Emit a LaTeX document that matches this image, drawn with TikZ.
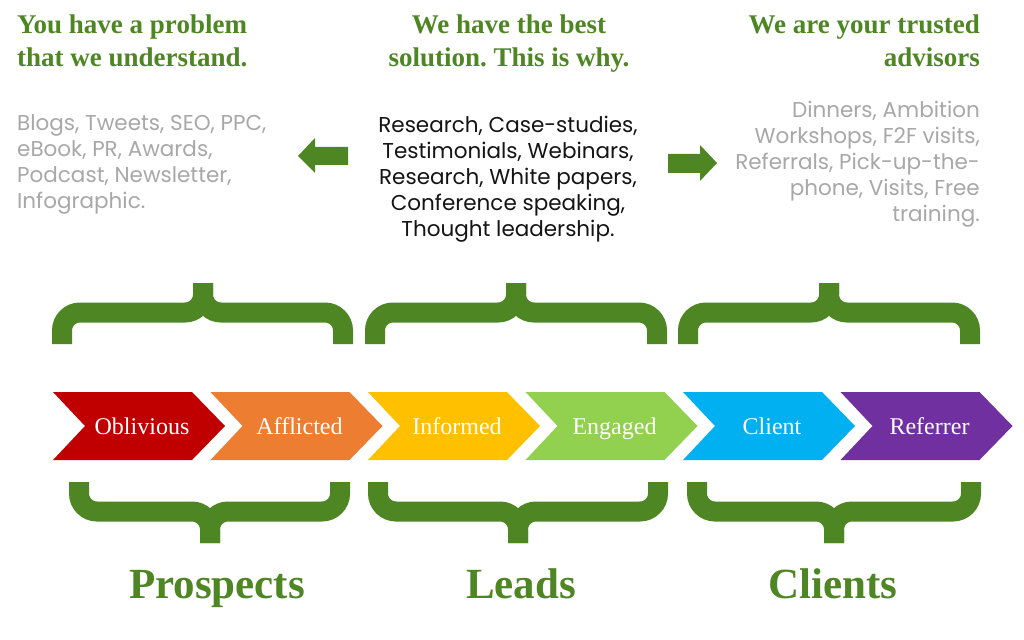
\documentclass[tikz,border=0pt]{standalone}
\usepackage{fontspec}
\setmainfont{Liberation Serif}
\newfontfamily\popfont{Poppins}
\definecolor{brgreen}{RGB}{79,134,36}
\definecolor{txgray}{RGB}{168,168,168}
\definecolor{cRed}{RGB}{192,0,0}
\definecolor{cOrange}{RGB}{237,125,49}
\definecolor{cYellow}{RGB}{255,192,0}
\definecolor{cLime}{RGB}{146,208,80}
\definecolor{cBlue}{RGB}{0,176,240}
\definecolor{cPurple}{RGB}{112,48,160}
\frenchspacing
\begin{document}
\begin{tikzpicture}[x=1pt,y=-1pt,
  heading/.style={inner sep=0pt,text=brgreen,font=\fontsize{27}{33}\selectfont\bfseries},
  body/.style={inner sep=0pt,font=\popfont\fontsize{21.5}{26}\selectfont},
  chevlabel/.style={inner sep=0pt,anchor=base,text=white,font=\fontsize{24}{28}\selectfont},
  bracestroke/.style={draw=brgreen,line width=20pt,line cap=butt,rounded corners=18pt},
  bigword/.style={inner sep=0pt,anchor=base,text=brgreen,font=\fontsize{43}{50}\selectfont\bfseries},
  greenarrow/.style={fill=brgreen,draw=none}]
\useasboundingbox (0,0) rectangle (1024,639);
\fill[white] (0,0) rectangle (1024,639);

% headings
\node[heading,anchor=north west,align=left] (h1) at (17,15) {You have a problem\\that we understand.};
\node[heading,anchor=north,align=center] (h2) at (509,15) {We have the best\\solution. This is why.};
\node[heading,anchor=north east,align=right] (h3) at (980,15) {We are your trusted\\advisors};

% body texts
\node[body,text=txgray,anchor=north west,align=left] (t1) at (17,114)
  {Blogs, Tweets, SEO, PPC,\\eBook, PR, Awards,\\Podcast, Newsletter,\\Infographic.};
\node[body,text=black!92,anchor=north,align=center] (t2) at (508,116)
  {Research, Case-studies,\\Testimonials, Webinars,\\Research, White papers,\\Conference speaking,\\Thought leadership.};
\node[body,text=txgray,anchor=north east,align=right] (t3) at (980,101)
  {Dinners, Ambition\\Workshops, F2F visits,\\Referrals, Pick-up-the-\\phone, Visits, Free\\training.};

% arrows
\fill[greenarrow] (298,156) -- (315,138) -- (315,147) -- (348,147) -- (348,165) -- (315,165) -- (315,173) -- cycle;
\fill[greenarrow] (668,154) -- (700,154) -- (700,145) -- (717,163) -- (700,181) -- (700,173) -- (668,173) -- cycle;

% top braces
\foreach \xa/\xb/\cx in {52/353/203, 365/667/516, 678/980/829}{
  \draw[bracestroke] (\xa+10,344) |- (\cx,312.5) -- (\cx,283);
  \draw[bracestroke] (\xb-10,344) |- (\cx,312.5) -- (\cx,283);
}
% bottom braces
\foreach \xa/\xb/\cx in {69/350/210, 368/668/518, 687/981/834}{
  \draw[bracestroke] (\xa+10,482) |- (\cx,511.5) -- (\cx,543);
  \draw[bracestroke] (\xb-10,482) |- (\cx,511.5) -- (\cx,543);
}

% chevrons
\foreach \k/\col/\lab in {0/cRed/Oblivious, 1/cOrange/Afflicted, 2/cYellow/Informed, 3/cLime/Engaged, 4/cBlue/Client, 5/cPurple/Referrer}{
  \pgfmathsetmacro{\xo}{53+157.5*\k}
  \fill[\col] (\xo,392) -- (\xo+139,392) -- (\xo+172,426) -- (\xo+139,460) -- (\xo,460) -- (\xo+32,426) -- cycle;
  \node[chevlabel] (c\k) at (\xo+89,434) {\lab};
}

% bottom labels
\node[bigword] (prospects) at (217,598) {Prospects};
\node[bigword] (leads) at (521,598) {Leads};
\node[bigword] (clients) at (833,598) {Clients};
\end{tikzpicture}
\end{document}
